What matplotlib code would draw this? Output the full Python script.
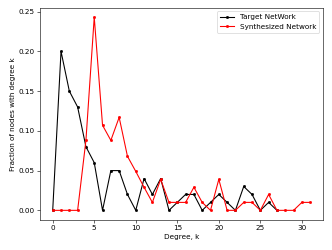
import matplotlib
matplotlib.use('Agg')
import matplotlib.pyplot as plt

# degree distribution values
k_target = list(range(0, 28))
p_target = [0, 0.20, 0.15, 0.13, 0.08, 0.06, 0, 0.05, 0.05, 0.02,
            0, 0.04, 0.02, 0.04, 0, 0.01, 0.02, 0.02, 0, 0.01,
            0.02, 0.01, 0, 0.03, 0.02, 0, 0.01, 0]

k_synth = list(range(0, 32))
p_synth = [0, 0, 0, 0, 0.088, 0.243, 0.107, 0.088, 0.117, 0.068,
           0.049, 0.029, 0.01, 0.039, 0.01, 0.01, 0.01, 0.029, 0.01, 0,
           0.039, 0, 0, 0.01, 0.01, 0, 0.02, 0, 0, 0,
           0.01, 0.01]

fig = plt.figure(figsize=(332 / 52, 250 / 52), dpi=52)
ax = fig.add_subplot(111)
ax.plot(k_target, p_target, 'k.-', label='Target NetWork')
ax.plot(k_synth, p_synth, 'r.-', label='Synthesized Network')
ax.set_xlabel('Degree, k')
ax.set_ylabel('Fraction of nodes with degree k')
ax.legend(loc='upper right')
fig.subplots_adjust(left=0.12, right=0.973, top=0.97, bottom=0.12)
fig.savefig('out.png', dpi=52)
